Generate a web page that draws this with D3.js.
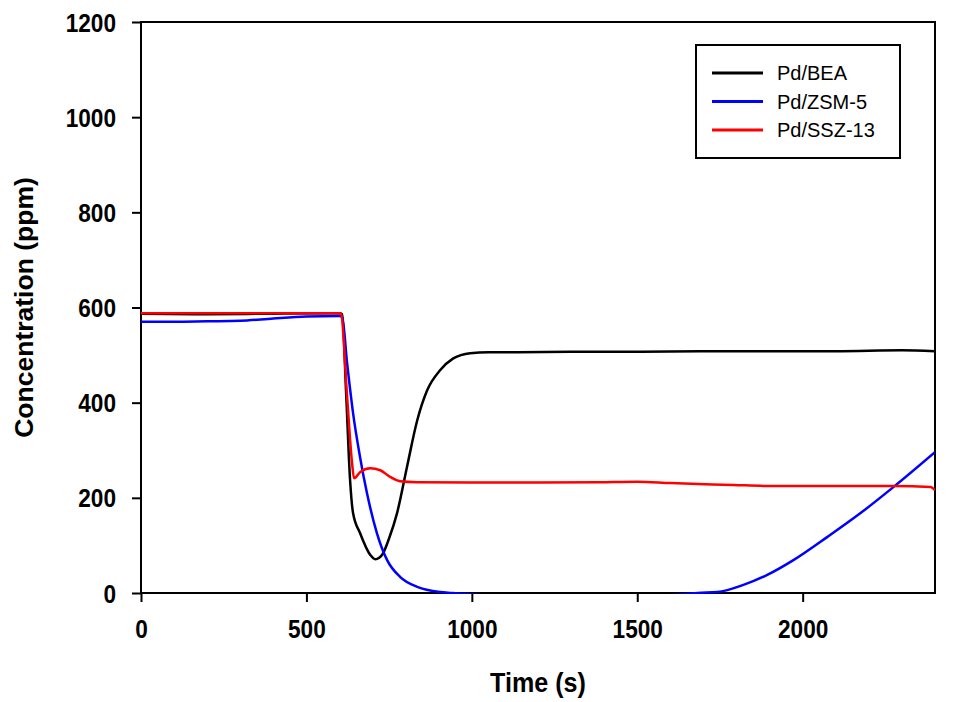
<!DOCTYPE html>
<html>
<head>
<meta charset="utf-8">
<script src="https://cdn.jsdelivr.net/npm/d3@7"></script>
<style>
    body { margin: 0; background: #fff; }
    text { font-family: "Liberation Sans", Arial, sans-serif; }
</style>
</head>
<body>
<div id="chart"></div>
<script>
// Pd/BEA
var beaTime = [0, 200, 400, 600, 608, 620, 632, 641, 662, 693, 708, 720, 732, 750, 774, 804, 835, 865, 904, 944, 995, 1050, 1137, 1300, 1500, 1700, 1900, 2100, 2300, 2400];
var beaConc = [587, 586, 587, 588, 586, 420, 237, 168, 126, 80, 71, 74, 84, 115, 168, 265, 363, 426, 468, 493, 504, 506, 506, 507, 507, 508, 508, 508, 510, 508];
// Pd/ZSM-5
var zsmTime = [0, 100, 200, 300, 400, 500, 600, 608, 623, 641, 662, 683, 713, 744, 783, 835, 904, 940, 1100, 1300, 1500, 1650, 1682, 1742, 1821, 1893, 1972, 2075, 2175, 2275, 2400];
var zsmConc = [570, 570, 571, 572, 577, 581, 582, 580, 483, 378, 286, 210, 126, 69, 34, 13, 2, 0, -8, -12, -8, -2, 0, 2, 17, 38, 69, 118, 168, 223, 296];
// Pd/SSZ-13
var sszTime = [0, 200, 400, 600, 605, 623, 638, 644, 662, 693, 723, 753, 783, 835, 1000, 1200, 1388, 1500, 1600, 1791, 1893, 2100, 2275, 2387, 2400];
var sszConc = [588, 588, 588, 588, 586, 412, 273, 241, 254, 262, 258, 244, 235, 233, 232, 232, 233, 234, 231, 227, 225, 225, 225, 223, 216];

var seriesNames = ["Pd/BEA", "Pd/ZSM-5", "Pd/SSZ-13"];
var seriesColors = ["#000000", "#0000ff", "#ff0000"];
var xTicks = [0, 500, 1000, 1500, 2000];
var yTicks = [0, 200, 400, 600, 800, 1000, 1200];

var W = 965, H = 702;
var plotLeft = 141, plotRight = 935, plotTop = 22, plotBottom = 593;

var svg = d3.select("#chart").append("svg")
    .attr("width", W)
    .attr("height", H);

var x = d3.scaleLinear().domain([0, 2400]).range([plotLeft, plotRight]);
var y = d3.scaleLinear().domain([0, 1200]).range([plotBottom, plotTop]);

// clip for the curves
svg.append("defs").append("clipPath")
    .attr("id", "plotClip")
    .append("rect")
    .attr("x", plotLeft)
    .attr("y", plotTop)
    .attr("width", plotRight - plotLeft)
    .attr("height", plotBottom - plotTop + 1);

// axes
var xAxis = d3.axisBottom(x).tickValues(xTicks).tickFormat(d3.format("d"))
    .tickSize(9).tickSizeOuter(0).tickPadding(18);
var gx = svg.append("g")
    .attr("transform", "translate(0," + plotBottom + ")")
    .call(xAxis);

var yAxis = d3.axisLeft(y).tickValues(yTicks).tickFormat(d3.format("d"))
    .tickSize(9).tickSizeOuter(0);
var gy = svg.append("g")
    .attr("transform", "translate(" + plotLeft + ",0)")
    .call(yAxis);

[gx, gy].forEach(function(g) {
    g.select(".domain").remove();
    g.selectAll(".tick line").attr("stroke", "#000").attr("stroke-width", 2);
    g.selectAll(".tick text")
        .attr("fill", "#000")
        .style("font-size", "26px")
        .style("font-weight", "bold");
});
gx.selectAll(".tick text").attr("transform", "scale(0.87,1)");
gy.selectAll(".tick text")
    .attr("x", 0)
    .attr("dy", "0.35em")
    .attr("transform", "translate(-25,0) scale(0.87,1)");

// frame
svg.append("rect")
    .attr("x", plotLeft)
    .attr("y", plotTop)
    .attr("width", plotRight - plotLeft)
    .attr("height", plotBottom - plotTop)
    .attr("fill", "none")
    .attr("stroke", "#000")
    .attr("stroke-width", 2);

// curves
var line = d3.line()
    .curve(d3.curveMonotoneX)
    .x(function(d) { return x(d[0]); })
    .y(function(d) { return y(d[1]); });

var series = [
    d3.zip(beaTime, beaConc),
    d3.zip(zsmTime, zsmConc),
    d3.zip(sszTime, sszConc)
];

svg.append("g")
    .attr("clip-path", "url(#plotClip)")
    .selectAll("path")
    .data(series)
    .enter().append("path")
    .attr("d", line)
    .attr("fill", "none")
    .attr("stroke", function(d, i) { return seriesColors[i]; })
    .attr("stroke-width", 2.5)
    .attr("stroke-linejoin", "round");

// axis titles
svg.append("text")
    .attr("transform", "translate(" + ((plotLeft + plotRight) / 2) + ",692) scale(0.93,1)")
    .attr("text-anchor", "middle")
    .style("font-size", "27px")
    .style("font-weight", "bold")
    .text("Time (s)");

svg.append("text")
    .attr("transform", "translate(33," + ((plotTop + plotBottom) / 2) + ") rotate(-90)")
    .attr("text-anchor", "middle")
    .style("font-size", "26.5px")
    .style("font-weight", "bold")
    .text("Concentration (ppm)");

// legend
var legend = svg.append("g").attr("transform", "translate(696,45)");
legend.append("rect")
    .attr("width", 204)
    .attr("height", 113)
    .attr("fill", "#fff")
    .attr("stroke", "#000")
    .attr("stroke-width", 2);

var items = legend.selectAll(".legendItem")
    .data(seriesNames)
    .enter().append("g")
    .attr("class", "legendItem")
    .attr("transform", function(d, i) { return "translate(0," + (28 + i * 28.5) + ")"; });

items.append("line")
    .attr("x1", 16)
    .attr("x2", 67)
    .attr("stroke", function(d, i) { return seriesColors[i]; })
    .attr("stroke-width", 3);

items.append("text")
    .attr("x", 81)
    .attr("dy", "0.36em")
    .style("font-size", "20px")
    .attr("fill", "#000")
    .text(function(d) { return d; });
</script>
</body>
</html>
